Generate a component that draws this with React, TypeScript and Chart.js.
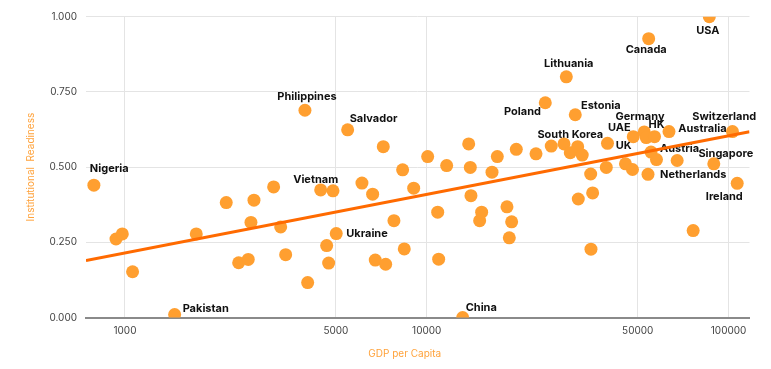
import React, { useEffect, useRef } from 'react';
import { Chart, registerables } from 'chart.js';

Chart.register(...registerables);

// ---- data ----
const countries = [
  'Nigeria', '', '', '', 'Pakistan', '', '', '', '', '',
  '', '', '', '', 'Philippines', '', 'Vietnam', '', '', '',
  'Ukraine', 'Salvador', '', '', '', '', '', '', '', '',
  '', '', '', '', '', 'China', '', '', '', '',
  '', '', '', '', '', '', '', '', 'Poland', '',
  'South Korea', 'Lithuania', '', 'Estonia', '', '', '', '', '', '',
  '', 'UK', '', '', 'UAE', 'Germany', '', 'Netherlands', 'Canada', 'Austria',
  'HK', '', 'Australia', '', '', 'USA', 'Singapore', 'Switzerland', 'Ireland',
];

const gdpPerCapita = [
  789, 934, 980, 1060, 1461, 1723, 2166, 2381, 2562, 2615,
  2676, 3109, 3281, 3408, 3948, 4031, 4452, 4660, 4731, 4890,
  5013, 5469, 6099, 6617, 6751, 7177, 7309, 7785, 8318, 8423,
  9050, 10070, 10870, 10950, 11640, 13150, 13770, 13940, 14010, 14970,
  15200, 16450, 17130, 18440, 18770, 19110, 19800, 23010, 24700, 25850,
  28490, 29000, 29890, 31050, 31620, 31770, 32740, 34920, 35000, 35450,
  39340, 39700, 45540, 48040, 48330, 52560, 53370, 54080, 54360, 55340,
  56830, 57690, 63470, 67550, 76320, 86340, 89330, 103000, 106800,
];

const readiness = [
  0.44, 0.261, 0.278, 0.152, 0.01, 0.278, 0.382, 0.182, 0.193, 0.316,
  0.39, 0.434, 0.301, 0.209, 0.689, 0.116, 0.424, 0.239, 0.181, 0.421,
  0.279, 0.624, 0.447, 0.41, 0.191, 0.568, 0.177, 0.322, 0.491, 0.228,
  0.43, 0.535, 0.35, 0.194, 0.505, 0.0, 0.577, 0.499, 0.405, 0.322,
  0.35, 0.483, 0.535, 0.368, 0.265, 0.318, 0.559, 0.544, 0.714, 0.57,
  0.577, 0.8, 0.548, 0.674, 0.568, 0.394, 0.54, 0.477, 0.227, 0.414,
  0.499, 0.579, 0.511, 0.492, 0.601, 0.617, 0.598, 0.476, 0.927, 0.55,
  0.601, 0.525, 0.618, 0.522, 0.289, 1.0, 0.511, 0.618, 0.446,
];

const trendX = [743, 117300];
const trendY = [0.189, 0.6175];

const xMin = 743;
const xMax = 117300;
const xTickValues = [1000, 5000, 10000, 50000, 100000];
const yMin = 0;
const yMax = 1;
const yStep = 0.25;

const xTitle = 'GDP per Capita';
const yTitle = 'Institutional  Readiness';

// ---- styles ----
const FONT = 'Inter';
const POINT_COLOR = '#FF9F30';
const LINE_COLOR = '#FF6A00';
const TITLE_COLOR = '#FFA23A';
const TICK_COLOR = '#444444';
const GRID_COLOR = '#E4E4E4';

const labelStyle: Record<string, [number, number, CanvasTextAlign]> = {
  Nigeria: [-4, -16.5, 'left'],
  Pakistan: [8, -6, 'left'],
  Philippines: [2, -13.6, 'center'],
  Salvador: [2, -10.7, 'left'],
  Vietnam: [-5, -10.7, 'center'],
  Ukraine: [10, 0, 'left'],
  China: [3, -9.4, 'left'],
  Poland: [-4.3, 9.3, 'right'],
  Lithuania: [2.4, -12.7, 'center'],
  Estonia: [5.7, -9.4, 'left'],
  'South Korea': [6.3, -9.3, 'center'],
  UAE: [-2.6, -9, 'right'],
  UK: [8.2, 2.8, 'left'],
  Germany: [-4.3, -15.7, 'center'],
  HK: [2, -11.7, 'center'],
  Australia: [9.3, -2.5, 'left'],
  Austria: [9, -3.7, 'left'],
  Netherlands: [12, 0, 'left'],
  Switzerland: [-8.2, -15.3, 'center'],
  Singapore: [12, -10.1, 'center'],
  Ireland: [-12.9, 13.8, 'center'],
  Canada: [-2.5, 11, 'center'],
  USA: [-1.5, 13.7, 'center'],
};

const pointLabelPlugin = {
  id: 'pointLabels',
  beforeDatasetsDraw(chart: any) {
    const meta = chart.getDatasetMeta(1);
    const ctx = chart.ctx;
    ctx.save();
    ctx.font = `bold 11px ${FONT}`;
    ctx.fillStyle = '#111111';
    ctx.textBaseline = 'middle';
    meta.data.forEach((el: any, i: number) => {
      const name = countries[i];
      if (!name) return;
      const s = labelStyle[name] || [0, -12, 'center'];
      ctx.textAlign = s[2];
      ctx.fillText(name, el.x + s[0], el.y + s[1]);
    });
    ctx.restore();
  },
};

const xTitlePlugin = {
  id: 'xTitle',
  afterDraw(chart: any) {
    const { ctx, chartArea } = chart;
    ctx.save();
    ctx.font = `10px ${FONT}`;
    ctx.fillStyle = TITLE_COLOR;
    ctx.textAlign = 'center';
    ctx.textBaseline = 'middle';
    ctx.fillText(xTitle, (chartArea.left + chartArea.right) / 2 - 13, chartArea.bottom + 36.8);
    ctx.restore();
  },
};

export default function App() {
  const ref = useRef<HTMLCanvasElement | null>(null);

  useEffect(() => {
    if (!ref.current) return;
    const chart = new Chart(ref.current, {
      type: 'scatter',
      data: {
        datasets: [
          {
            type: 'line',
            label: 'Trend',
            data: trendX.map((x, i) => ({ x, y: trendY[i] })),
            borderColor: LINE_COLOR,
            borderWidth: 3,
            pointRadius: 0,
            pointHoverRadius: 0,
            fill: false,
            order: 0,
          } as any,
          {
            label: 'Countries',
            data: gdpPerCapita.map((x, i) => ({ x, y: readiness[i] })),
            backgroundColor: POINT_COLOR,
            borderWidth: 0,
            pointRadius: 6.5,
            pointHoverRadius: 6.5,
            clip: 0,
            order: 1,
          } as any,
        ],
      },
      options: {
        animation: false,
        responsive: true,
        maintainAspectRatio: false,
        layout: { autoPadding: false, padding: { left: 13.4, right: 13.5, top: 8.7, bottom: 26.5 } },
        plugins: {
          legend: { display: false },
          tooltip: { enabled: false },
        },
        scales: {
          x: {
            type: 'logarithmic',
            min: xMin,
            max: xMax,
            bounds: 'data',
            afterBuildTicks: (scale: any) => {
              scale.ticks = xTickValues.map((v) => ({ value: v }));
            },
            afterFit: (scale: any) => {
              scale.height = 19;
              scale.paddingLeft = 0;
              scale.paddingRight = 0;
            },
            ticks: {
              callback: (v: any) => String(v),
              color: TICK_COLOR,
              font: { family: FONT, size: 10 },
              padding: 7,
              maxRotation: 0,
              autoSkip: false,
            },
            grid: { color: GRID_COLOR, drawTicks: false, lineWidth: 1 },
            border: { display: true, color: '#8A8A8A', width: 2 },
            title: { display: false },
          },
          y: {
            type: 'linear',
            min: yMin,
            max: yMax,
            afterFit: (scale: any) => {
              scale.width = 64.6;
              scale.paddingTop = 0;
              scale.paddingBottom = 0;
            },
            ticks: {
              stepSize: yStep,
              callback: (v: any) => Number(v).toFixed(3),
              color: TICK_COLOR,
              font: { family: FONT, size: 10 },
              padding: 9,
            },
            grid: { color: GRID_COLOR, drawTicks: false, lineWidth: 1 },
            border: { display: false },
            title: {
              display: true,
              text: yTitle,
              color: TITLE_COLOR,
              font: { family: FONT, size: 10 },
              padding: { top: 4, bottom: 4 },
            },
          },
        },
      },
      plugins: [pointLabelPlugin, xTitlePlugin],
    } as any);
    return () => chart.destroy();
  }, []);

  return (
    <div style={{ position: 'relative', width: 755, height: 355 }}>
      <canvas ref={ref} />
    </div>
  );
}
